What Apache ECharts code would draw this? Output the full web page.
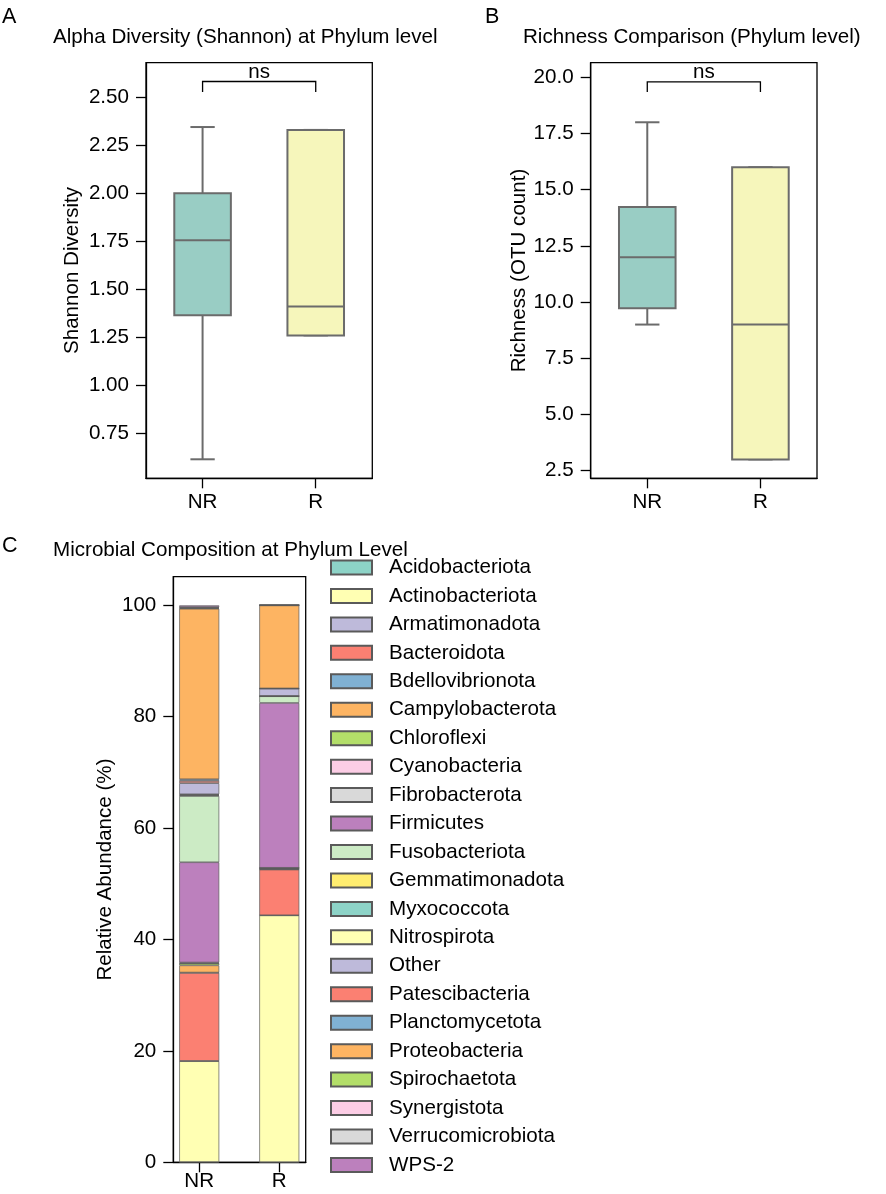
<!DOCTYPE html>
<html>
<head>
<meta charset="utf-8">
<script src="https://cdn.jsdelivr.net/npm/echarts@6/dist/echarts.min.js"></script>
<style>
  html, body { margin: 0; padding: 0; background: #fff; }
  #chart { width: 886px; height: 1194px; }
</style>
</head>
<body>
<div id="chart"></div>
<script>
// groups on the x axis
const groups = ["NR", "R"];

// box statistics per group: [min, q1, median, q3, max]
const shannonStats = [
  [0.615, 1.365, 1.755, 2.0, 2.345],
  [1.26, 1.26, 1.41, 2.33, 2.33]
];
const richnessStats = [
  [9, 9.72, 12, 14.23, 18],
  [3, 3, 9, 16, 16]
];

// tick labels
const shannonTicks = [0.75, 1.0, 1.25, 1.5, 1.75, 2.0, 2.25, 2.5];
const richnessTicks = [2.5, 5, 7.5, 10, 12.5, 15, 17.5, 20];
const abundanceTicks = [0, 20, 40, 60, 80, 100];

// significance brackets: label, bracket level, leg end
const shannonSig = ["ns", 2.582, 2.528];
const richnessSig = ["ns", 19.8, 19.35];

// stacked composition (%), in stacking order from the bottom
const phyla = [
  "Acidobacteriota", "Actinobacteriota", "Armatimonadota", "Bacteroidota",
  "Bdellovibrionota", "Campylobacterota", "Chloroflexi", "Cyanobacteria",
  "Fibrobacterota", "Firmicutes", "Fusobacteriota", "Gemmatimonadota",
  "Myxococcota", "Nitrospirota", "Other", "Patescibacteria",
  "Planctomycetota", "Proteobacteria", "Spirochaetota", "Synergistota",
  "Verrucomicrobiota", "WPS-2"
];
const abundanceNR = [
  0.05, 18.1, 0.05, 15.8,
  0.05, 1.3, 0.35, 0.05,
  0.1, 18.0, 11.9, 0.1,
  0.1, 0.1, 2.0, 0.4,
  0.3, 30.6, 0.1, 0.1,
  0.1, 0.3
];
const abundanceR = [
  0.02, 44.3, 0.02, 8.2,
  0.02, 0.2, 0.05, 0.02,
  0.02, 29.6, 1.2, 0.02,
  0.02, 0.02, 1.3, 0.02,
  0.02, 14.9, 0.02, 0.02,
  0.02, 0.02
];

const set3 = ["#8dd3c7", "#ffffb3", "#bebada", "#fb8072", "#80b1d3", "#fdb462",
  "#b3de69", "#fccde5", "#d9d9d9", "#bc80bd", "#ccebc5", "#ffed6f"];
const boxColors = ["#99cdc4", "#f6f6bb"];
const FONT = "Liberation Sans, Arial, sans-serif";
const FS = 20.6;
const boxLine = "#6b6b6b";

const chart = echarts.init(document.getElementById("chart"));

function renderBox(params, api) {
  const x = api.value(0);
  const lo = api.coord([x, api.value(1)]);
  const q1 = api.coord([x, api.value(2)]);
  const md = api.coord([x, api.value(3)]);
  const q3 = api.coord([x, api.value(4)]);
  const hi = api.coord([x, api.value(5)]);
  const bw = api.size([1, 0])[0] * 0.5;
  const cw = bw * 0.43;
  const cx = md[0];
  const st = { stroke: boxLine, lineWidth: 2 };
  return {
    type: "group",
    children: [
      { type: "line", shape: { x1: cx, y1: q3[1], x2: cx, y2: hi[1] }, style: st },
      { type: "line", shape: { x1: cx, y1: q1[1], x2: cx, y2: lo[1] }, style: st },
      { type: "line", shape: { x1: cx - cw / 2, y1: hi[1], x2: cx + cw / 2, y2: hi[1] }, style: st },
      { type: "line", shape: { x1: cx - cw / 2, y1: lo[1], x2: cx + cw / 2, y2: lo[1] }, style: st },
      {
        type: "rect",
        shape: { x: cx - bw / 2, y: q3[1], width: bw, height: q1[1] - q3[1] },
        style: { fill: api.visual("color"), stroke: boxLine, lineWidth: 2 }
      },
      { type: "line", shape: { x1: cx - bw / 2, y1: md[1], x2: cx + bw / 2, y2: md[1] }, style: st }
    ]
  };
}

function bracketRenderer(label) {
  return function (params, api) {
    const a = api.coord([api.value(0), api.value(2)]);
    const b = api.coord([api.value(1), api.value(2)]);
    const legY = api.coord([api.value(0), api.value(3)])[1];
    return {
      type: "group",
      children: [
        { type: "polyline", shape: { points: [[a[0], legY], a, b, [b[0], legY]] }, style: { stroke: "#000", lineWidth: 1.3, fill: null } },
        {
          type: "text",
          style: {
            text: label, x: (a[0] + b[0]) / 2, y: a[1] + 1,
            align: "center", verticalAlign: "bottom",
            font: FS + "px " + FONT, fill: "#000"
          }
        }
      ]
    };
  };
}

function boxData(stats) {
  return stats.map((s, i) => ({ value: [i].concat(s), itemStyle: { color: boxColors[i] } }));
}

const lineBlack = { color: "#000", width: 1.3 };
const labelBase = { color: "#000", fontSize: FS, fontFamily: FONT };

function catAxis(gi, showLine, margin) {
  return {
    type: "category", gridIndex: gi, data: groups, boundaryGap: true,
    axisLine: { show: showLine, lineStyle: lineBlack },
    axisTick: { show: true, alignWithLabel: true, length: 10, lineStyle: lineBlack },
    axisLabel: Object.assign({ margin: margin }, labelBase),
    splitLine: { show: false }
  };
}

function valAxis(gi, min, max, ticks, digits, name, gap) {
  return {
    type: "value", gridIndex: gi, min: min, max: max,
    name: name, nameLocation: "middle", nameGap: gap,
    nameTextStyle: labelBase,
    axisLine: { show: true, onZero: false, lineStyle: lineBlack },
    axisTick: { show: true, length: 10, customValues: ticks, lineStyle: lineBlack },
    axisLabel: Object.assign({ margin: 17, customValues: ticks, formatter: v => Number(v).toFixed(digits) }, labelBase),
    splitLine: { show: false }
  };
}

const barSeries = phyla.map((p, i) => ({
  name: p, type: "bar", stack: "total", xAxisIndex: 2, yAxisIndex: 2,
  barWidth: 40,
  itemStyle: { color: set3[i % set3.length], borderColor: "#5a5a5a", borderWidth: 0.7 },
  data: groups.map((g, k) => (k === 0 ? abundanceNR[i] : abundanceR[i]))
}));

const titleStyle = { color: "#000", fontSize: FS, fontWeight: "normal", fontFamily: FONT };
const letterStyle = { color: "#000", fontSize: 21.5, fontWeight: "normal", fontFamily: FONT };
const frame = { show: true, borderColor: "#000", borderWidth: 1.3, backgroundColor: "transparent" };

chart.setOption({
  animation: false,
  backgroundColor: "#fff",
  title: [
    { text: "A", left: 2, top: 6, padding: 0, textStyle: letterStyle },
    { text: "B", left: 485, top: 6, padding: 0, textStyle: letterStyle },
    { text: "C", left: 2, top: 535, padding: 0, textStyle: letterStyle },
    { text: "Alpha Diversity (Shannon) at Phylum level", left: 53, top: 27, padding: 0, textStyle: titleStyle },
    { text: "Richness Comparison (Phylum level)", left: 523, top: 27, padding: 0, textStyle: titleStyle },
    { text: "Microbial Composition at Phylum Level", left: 53, top: 540, padding: 0, textStyle: titleStyle }
  ],
  legend: {
    orient: "vertical", left: 330, top: 557, height: 630, padding: 0,
    itemWidth: 41, itemHeight: 14, itemGap: 7.45, icon: "rect",
    selectedMode: false,
    data: phyla,
    textStyle: { color: "#000", fontSize: FS, lineHeight: 20, fontFamily: FONT, padding: [0, 0, 0, 12] }
  },
  grid: [
    Object.assign({ left: 146, top: 62.7, width: 226.3, height: 415.6 }, frame),
    Object.assign({ left: 590.7, top: 62.7, width: 226.3, height: 415.6 }, frame),
    // bars: two 80px bands centred on the NR and R ticks
    { left: 159.2, top: 576.7, width: 160.1, height: 585.6, show: false },
    // visible frame of panel C
    Object.assign({ left: 173.3, top: 576.7, width: 132.4, height: 585.6 }, frame)
  ],
  xAxis: [
    catAxis(0, true, 14),
    catAxis(1, true, 14),
    catAxis(2, false, 9),
    { type: "value", gridIndex: 3, min: 0, max: 1, axisLine: { show: true, onZero: false, lineStyle: lineBlack }, axisTick: { show: false }, axisLabel: { show: false }, splitLine: { show: false } }
  ],
  yAxis: [
    valAxis(0, 0.516, 2.68, shannonTicks, 2, "Shannon Diversity", 63),
    valAxis(1, 2.16, 20.65, richnessTicks, 1, "Richness (OTU count)", 60),
    { type: "value", gridIndex: 2, min: 0, max: 105.1, show: false, splitLine: { show: false } },
    valAxis(3, 0, 105.1, abundanceTicks, 0, "Relative Abundance (%)", 57)
  ],
  series: [
    { type: "custom", xAxisIndex: 0, yAxisIndex: 0, renderItem: renderBox, encode: { x: 0, y: [1, 2, 3, 4, 5] }, data: boxData(shannonStats), z: 3 },
    { type: "custom", xAxisIndex: 1, yAxisIndex: 1, renderItem: renderBox, encode: { x: 0, y: [1, 2, 3, 4, 5] }, data: boxData(richnessStats), z: 3 },
    { type: "custom", xAxisIndex: 0, yAxisIndex: 0, renderItem: bracketRenderer(shannonSig[0]), encode: { x: [0, 1], y: [2, 3] }, data: [[0, 1, shannonSig[1], shannonSig[2]]], z: 3 },
    { type: "custom", xAxisIndex: 1, yAxisIndex: 1, renderItem: bracketRenderer(richnessSig[0]), encode: { x: [0, 1], y: [2, 3] }, data: [[0, 1, richnessSig[1], richnessSig[2]]], z: 3 }
  ].concat(barSeries)
});
</script>
</body>
</html>
